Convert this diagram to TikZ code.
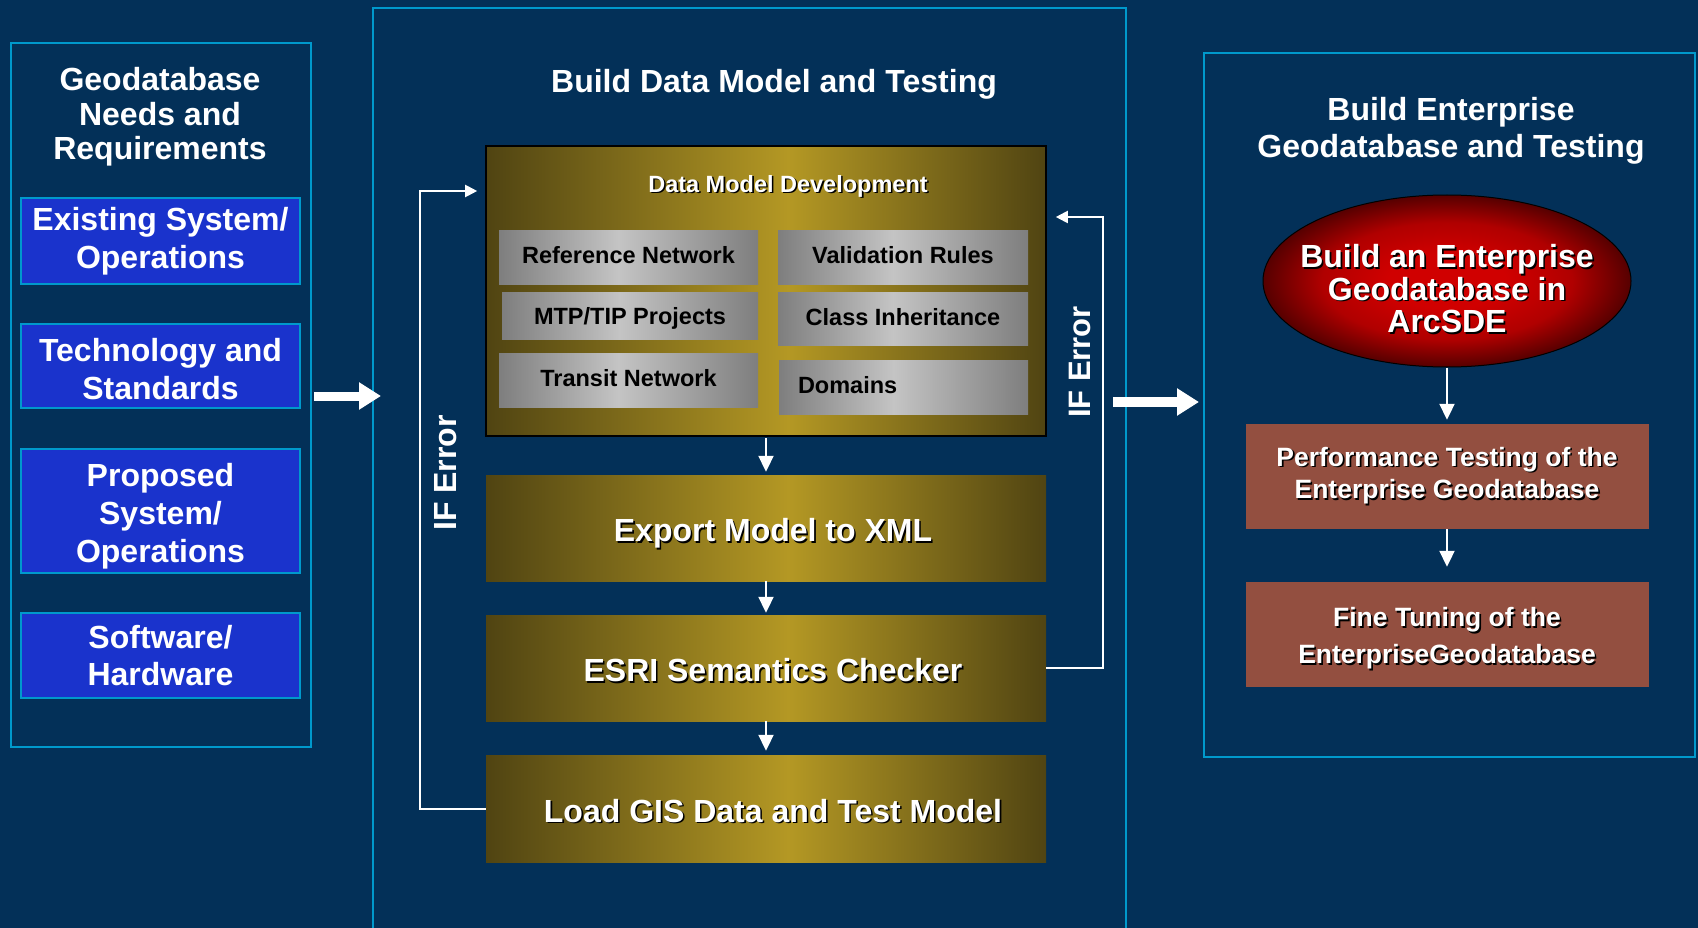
\documentclass[tikz,border=0pt]{standalone}
\usepackage{fontspec}
\setmainfont{Liberation Sans}
\usetikzlibrary{arrows.meta,shapes.geometric}

\definecolor{navy}{RGB}{3,48,88}
\definecolor{framecyan}{RGB}{0,153,204}
\definecolor{boxblue}{RGB}{26,51,204}
\definecolor{golddark}{RGB}{80,68,18}
\definecolor{goldlight}{RGB}{180,152,36}
\definecolor{greydark}{RGB}{126,126,126}
\definecolor{greylight}{RGB}{196,196,196}
\definecolor{brick}{RGB}{147,79,64}
\definecolor{redhot}{RGB}{208,0,0}
\definecolor{redmid}{RGB}{176,0,0}
\definecolor{reddark}{RGB}{86,0,0}

\pgfdeclarehorizontalshading{goldbar}{100bp}{color(0bp)=(golddark); color(25bp)=(golddark); color(52bp)=(goldlight); color(75bp)=(golddark); color(100bp)=(golddark)}
\pgfdeclarehorizontalshading{greybar}{100bp}{color(0bp)=(greydark); color(25bp)=(greydark); color(48bp)=(greylight); color(75bp)=(greydark); color(100bp)=(greydark)}
\pgfdeclareradialshading{redball}{\pgfpoint{0bp}{0bp}}{color(0bp)=(redhot); color(8bp)=(redhot); color(17bp)=(redmid); color(25bp)=(reddark); color(50bp)=(reddark)}

% white lettering with a dark drop shadow
\newcommand\shd[1]{\leavevmode\rlap{\kern1.6pt\raisebox{-1.6pt}{\textcolor{black}{#1}}}#1}

\begin{document}
\begin{tikzpicture}[x=1pt, y=-1pt,
  frame/.style={draw=framecyan, line width=2.6pt, rectangle, inner sep=0pt},
  heading/.style={text=white, align=center, inner sep=0pt, font=\fontsize{32}{#1}\selectfont\bfseries},
  heading/.default=36,
  bluebox/.style={frame, fill=boxblue, text=white, align=center, minimum width=279pt,
    font=\fontsize{32}{38}\selectfont\bfseries},
  goldbox/.style={rectangle, inner sep=0pt, shading=goldbar, text=white, minimum width=560pt,
    font=\fontsize{32}{36}\selectfont\bfseries, text height=27pt, text depth=0pt},
  greybox/.style={rectangle, inner sep=0pt, shading=greybar, text=black,
    font=\fontsize{23.5}{28}\selectfont\bfseries, text height=13pt, text depth=0pt},
  brickbox/.style={rectangle, inner sep=0pt, fill=brick, text=white, align=center,
    minimum width=403pt, minimum height=105pt},
  flow/.style={draw=white, line width=2pt, -{Triangle[length=16pt,width=15pt]}},
  bigflow/.style={draw=white, line width=9pt, -{Triangle[length=22pt,width=26pt]}},
  errline/.style={draw=white, line width=2pt},
  errlabel/.style={text=white, rotate=90, inner sep=0pt, font=\fontsize{#1}{36}\selectfont\bfseries},
  errlabel/.default=31
]
\useasboundingbox (0,0) rectangle (1698,928);
\fill[navy] (0,0) rectangle (1698,928);
\clip (0,0) rectangle (1698,928);

% ---- needs and requirements column ----
\node[frame, minimum width=300pt, minimum height=704pt] (needs) at (161,395) {};
\node[heading=34.5] (needsT) at (160,117) {Geodatabase\\Needs and\\Requirements};
\node[bluebox, minimum height=86pt] (b1) at (160.5,241) {Existing System/\\Operations};
\node[bluebox, minimum height=84pt] (b2) at (160.5,366) {\rule{0pt}{30pt}Technology and\\Standards};
\node[bluebox, minimum height=124pt] (b3) at (160.5,511) {\rule{0pt}{34.5pt}Proposed\\System/\\Operations};
\node[bluebox, minimum height=85pt, font=\fontsize{32}{37}\selectfont\bfseries] (b4) at (160.5,655.5) {Software/\\Hardware};

% ---- data model column ----
\node[frame, minimum width=753pt, minimum height=932pt] (build) at (749.5,474) {};
\node[heading] (buildT) at (774,84) {Build Data Model and Testing};

\node[rectangle, inner sep=0pt, shading=goldbar, draw=black, line width=1.6pt,
  minimum width=560pt, minimum height=290pt] (dmd) at (766,291) {};
\node[text=white, inner sep=0pt, font=\fontsize{23.5}{28}\selectfont\bfseries] (dmdT) at (788,187) {\shd{Data Model Development}};

\node[greybox, minimum width=259pt, minimum height=53pt] (ref) at (628.5,257.5) {Reference Network};
\node[greybox, minimum width=250pt, minimum height=53pt] (val) at (903,257.5) {Validation Rules};
\node[greybox, minimum width=256pt, minimum height=47pt, text height=17pt] (mtp) at (630,315.5) {MTP/TIP Projects};
\node[greybox, minimum width=250pt, minimum height=53pt] (cls) at (903,318.5) {Class Inheritance};
\node[greybox, minimum width=259pt, minimum height=54pt] (tra) at (628.5,380) {Transit Network};
\node[greybox, minimum width=249pt, minimum height=54pt] (dom) at (903.5,387) {\makebox[249pt][l]{\hspace{19pt}Domains}};

\node[goldbox, minimum height=106pt] (export) at (766,528) {\hspace*{14pt}\shd{Export Model to XML}};
\node[goldbox, minimum height=106pt] (esri) at (766,668) {\hspace*{14pt}\shd{ESRI Semantics Checker}};
\node[goldbox, minimum height=107pt] (load) at (766,808.5) {\hspace*{14pt}\shd{Load GIS Data and Test Model}};

\draw[flow, shorten <=1pt, shorten >=3pt] (dmd) -- (export);
\draw[flow, shorten >=2pt] (export) -- (esri);
\draw[flow, shorten >=4pt] (esri) -- (load);

% error loops back to the model
\coordinate (ltop) at (420,191);
\coordinate (rtop) at (1103,217);
\draw[errline, -{Triangle[length=12pt,width=12pt]}, shorten >=8pt] (load.west) -| (ltop) -- (ltop -| dmd.west);
\draw[errline, -{Triangle[length=12pt,width=12pt]}, shorten >=9pt] (esri.east) -| (rtop) -- (rtop -| dmd.east);
\node[errlabel=32] (errL) at (446,473) {IF Error};
\node[errlabel] (errR) at (1080,362) {IF Error};

% ---- enterprise column ----
\node[frame, minimum width=491pt, minimum height=704pt] (ent) at (1449.5,405) {};
\node[heading=37] (entT) at (1451,131) {Build Enterprise\\Geodatabase and Testing};

\node[ellipse, draw=black, line width=1pt, shading=redball,
  minimum width=368pt, minimum height=172pt, inner sep=0pt] (sde) at (1447,281) {};
\node[text=white, align=center, inner sep=0pt, font=\fontsize{32}{32.5}\selectfont\bfseries] (sdeT) at (1447,289.5)
  {\shd{Build an Enterprise}\\\shd{Geodatabase in}\\\shd{ArcSDE}};

\node[brickbox, font=\fontsize{26.5}{32.5}\selectfont\bfseries] (perf) at (1447,476.5)
  {\shd{Performance Testing of the}\\\shd{Enterprise Geodatabase}};
\node[brickbox, font=\fontsize{26.5}{37}\selectfont\bfseries] (fine) at (1447,634.5)
  {\rule{0pt}{29pt}\shd{Fine Tuning of the}\\\shd{EnterpriseGeodatabase}};

\draw[flow, shorten >=4pt] (sde) -- (perf);
\draw[flow, shorten >=15pt] (perf) -- (fine);

% hand-over arrows between the columns
\coordinate (a1s) at (314,396);
\coordinate (a1e) at (381,396);
\coordinate (a2s) at (1113,402);
\coordinate (a2e) at (1199,402);
\draw[bigflow] (a1s) -- (a1e);
\draw[bigflow, line width=10pt] (a2s) -- (a2e);
\end{tikzpicture}
\end{document}
